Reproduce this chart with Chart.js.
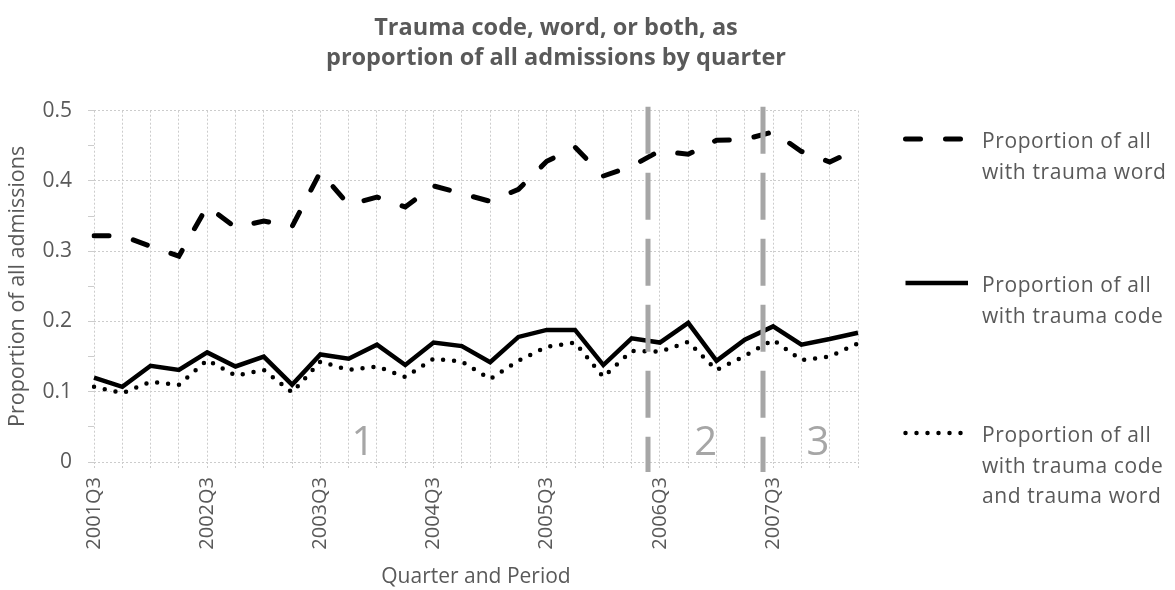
<!DOCTYPE html>
<html><head><meta charset="utf-8">
<script src="https://cdn.jsdelivr.net/npm/chart.js@4/dist/chart.umd.min.js"></script>
<style>html,body{margin:0;padding:0;background:#fff;}canvas{display:block;}</style>
</head><body>
<canvas id="c" width="1175" height="590"></canvas>
<script>
const quarters = ['2001Q3','2001Q4','2002Q1','2002Q2','2002Q3','2002Q4','2003Q1','2003Q2','2003Q3','2003Q4','2004Q1','2004Q2','2004Q3','2004Q4','2005Q1','2005Q2','2005Q3','2005Q4','2006Q1','2006Q2','2006Q3','2006Q4','2007Q1','2007Q2','2007Q3','2007Q4','2008Q1','2008Q2'];
const wordShare = [0.322,0.322,0.307,0.293,0.364,0.334,0.343,0.335,0.413,0.366,0.377,0.363,0.393,0.382,0.371,0.388,0.428,0.448,0.407,0.421,0.443,0.438,0.458,0.459,0.470,0.442,0.427,0.446];
const codeShare = [0.120,0.107,0.137,0.131,0.156,0.136,0.150,0.110,0.153,0.147,0.167,0.138,0.170,0.165,0.142,0.178,0.188,0.188,0.138,0.176,0.170,0.198,0.144,0.174,0.193,0.167,0.175,0.184];
const bothShare = [0.107,0.098,0.114,0.110,0.145,0.123,0.131,0.099,0.143,0.131,0.136,0.121,0.147,0.143,0.118,0.144,0.164,0.170,0.121,0.158,0.157,0.171,0.131,0.151,0.174,0.145,0.150,0.169];
const yTickLabels = ['0','0.1','0.2','0.3','0.4','0.5'];
const legendText = [
  ['Proportion of all','with trauma word'],
  ['Proportion of all','with trauma code'],
  ['Proportion of all','with trauma code','and trauma word']
];
const periodNames = ['1','2','3'];
const periodLabelAt = [9.5, 21.62, 25.58];
const periodBreaksAt = [19.59, 23.64];
const titleLines = ['Trauma code, word, or both, as','proportion of all admissions by quarter'];

const FONT = "'Open Sans', 'Noto Sans', sans-serif";
const TEXT = '#595959';
const GRID = '#cccccc';
Chart.defaults.font.family = FONT;
Chart.defaults.color = TEXT;

const isMajor = v => Math.abs(v * 10 - Math.round(v * 10)) < 1e-6;

const periodPlugin = {
  id: 'periods',
  afterDatasetsDraw(chart, args, o) {
    const {ctx, chartArea, scales: {x, y}} = chart;
    ctx.save();
    ctx.strokeStyle = o.lineColor; ctx.lineWidth = o.lineWidth; ctx.setLineDash(o.dash);
    periodBreaksAt.forEach(v => {
      const px = Math.round(x.getPixelForValue(v));
      ctx.beginPath(); ctx.moveTo(px, chartArea.top - o.above); ctx.lineTo(px, chartArea.bottom + o.below); ctx.stroke();
    });
    ctx.setLineDash([]);
    ctx.fillStyle = o.textColor; ctx.font = o.fontSize + 'px ' + FONT;
    ctx.textAlign = 'center'; ctx.textBaseline = 'alphabetic';
    periodNames.forEach((t, i) => ctx.fillText(t, x.getPixelForValue(periodLabelAt[i]), y.getPixelForValue(o.labelValue)));
    ctx.restore();
  }
};

const sideLegend = {
  id: 'sideLegend',
  afterDraw(chart, args, o) {
    const {ctx} = chart;
    chart.data.datasets.forEach((ds, i) => {
      const sy = o.sampleY[i];
      ctx.save();
      ctx.strokeStyle = ds.borderColor; ctx.lineWidth = ds.borderWidth;
      ctx.lineCap = ds.borderCapStyle || 'butt';
      ctx.setLineDash(ds.borderDash || []);
      ctx.beginPath(); ctx.moveTo(o.x0, sy); ctx.lineTo(o.x1, sy); ctx.stroke();
      ctx.restore();
      ctx.save();
      ctx.fillStyle = TEXT; ctx.font = o.fontSize + 'px ' + FONT;
      if ('letterSpacing' in ctx) ctx.letterSpacing = o.letterSpacing;
      ctx.textAlign = 'left'; ctx.textBaseline = 'alphabetic';
      legendText[i].forEach((line, k) => ctx.fillText(line, o.textX, sy + o.firstOffset + k * o.lineGap));
      ctx.restore();
    });
  }
};

new Chart(document.getElementById('c'), {
  type: 'line',
  data: {
    labels: quarters,
    datasets: [
      {label: legendText[0].join(' '), data: wordShare, borderColor: '#000', borderWidth: 5, borderDash: [15, 25], borderCapStyle: 'round', pointRadius: 0, tension: 0, fill: false},
      {label: legendText[1].join(' '), data: codeShare, borderColor: '#000', borderWidth: 4.5, borderCapStyle: 'butt', pointRadius: 0, tension: 0, fill: false},
      {label: legendText[2].join(' '), data: bothShare, borderColor: '#000', borderWidth: 4.5, borderDash: [0, 11], borderCapStyle: 'round', pointRadius: 0, tension: 0, fill: false}
    ]
  },
  options: {
    responsive: false,
    animation: false,
    devicePixelRatio: 1,
    layout: {padding: {left: 0, right: 63, top: 0, bottom: 0}},
    plugins: {
      legend: {display: false},
      tooltip: {enabled: false},
      title: {display: true, text: titleLines, color: TEXT, font: {size: 23.5, weight: 'bold', lineHeight: 1.2766}, padding: {top: 13.3, bottom: 37.4}},
      periods: {lineColor: '#a6a6a6', lineWidth: 5, dash: [47, 19], above: 4, below: 10, textColor: '#a6a6a6', fontSize: 40, labelValue: 0.01},
      sideLegend: {x0: 905.5, x1: 968, sampleY: [139, 283, 433], textX: 982, firstOffset: 9, lineGap: 30.5, fontSize: 21, letterSpacing: '0.6px'}
    },
    scales: {
      x: {
        type: 'category',
        grid: {color: GRID, lineWidth: 1, tickLength: 8, tickColor: GRID, tickBorderDash: [2, 2], drawTicks: true},
        border: {display: false, dash: [2, 2]},
        ticks: {autoSkip: false, minRotation: 90, maxRotation: 90, padding: 7, color: TEXT, font: {size: 20},
          callback: (v, i) => (i % 4 === 0 ? quarters[i] : '')},
        title: {display: true, text: 'Quarter and Period', color: TEXT, font: {size: 21, lineHeight: 1.2}, padding: 0},
        afterFit: s => { s.height = 128; }
      },
      y: {
        type: 'linear', min: 0, max: 0.5,
        grid: {color: c => (isMajor(c.tick.value) ? GRID : 'rgba(0,0,0,0)'), tickColor: GRID, tickLength: 6, lineWidth: 1},
        border: {display: false, dash: [2, 2]},
        ticks: {stepSize: 0.05, padding: 16, color: TEXT, font: {size: 21},
          callback: v => (isMajor(v) ? yTickLabels[Math.round(v * 10)] : '')},
        title: {display: true, text: 'Proportion of all admissions', color: TEXT, font: {size: 21.5, lineHeight: 1.2}, padding: 5},
        afterFit: s => { s.width = 94; }
      },
      side: {
        type: 'linear', position: 'right', display: true,
        grid: {display: false, drawTicks: false}, border: {display: false},
        ticks: {display: false},
        afterFit: s => { s.width = 254; }
      }
    }
  },
  plugins: [periodPlugin, sideLegend]
});
</script>
</body></html>
